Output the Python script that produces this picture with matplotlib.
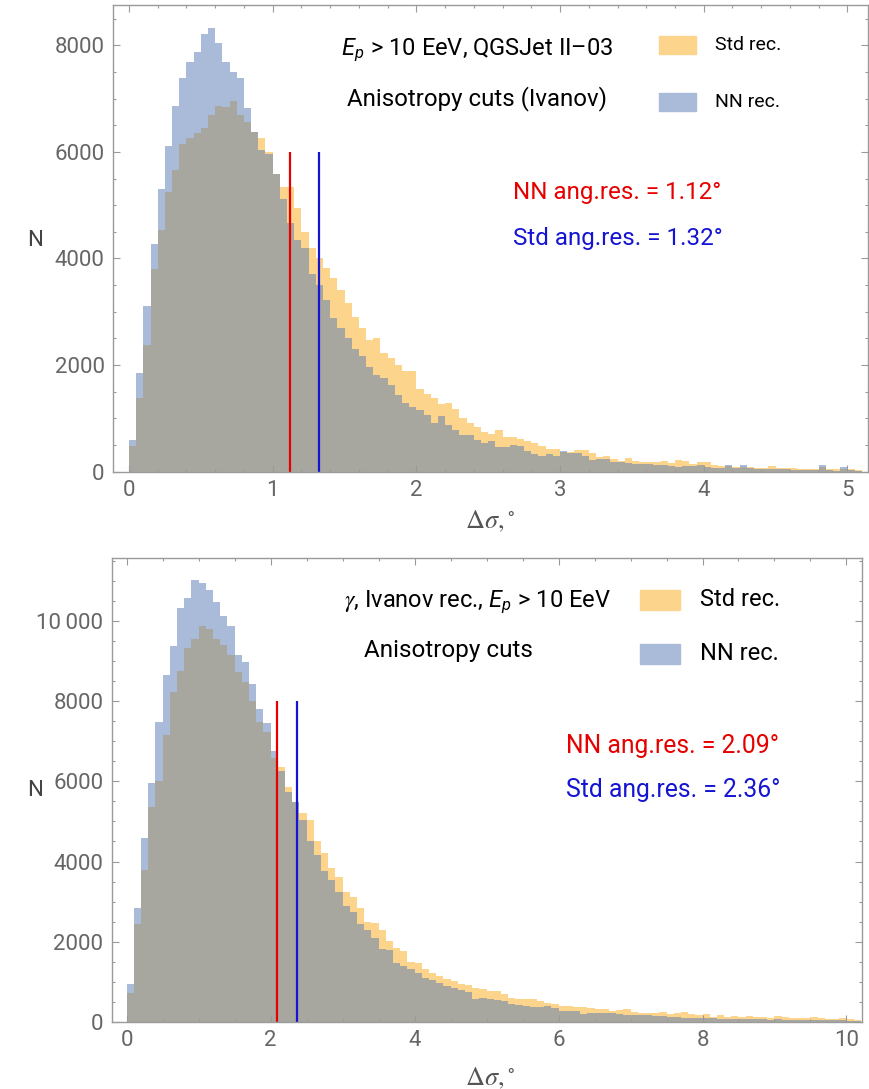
import numpy as np
import matplotlib
matplotlib.use("Agg")
import matplotlib.pyplot as plt
from matplotlib.patches import Rectangle
from matplotlib.ticker import MultipleLocator, FuncFormatter

# ---------------- data ----------------
# top panel: proton, bins of 0.05 deg starting at 0
top_bin_width = 0.05
top_std = [480, 1390, 2370, 3800, 4540, 5240, 5660, 6150, 6270, 6360,
           6450, 6690, 6860, 6840, 6950, 6700, 6560, 6380, 6260, 6000,
           5590, 5340, 5340, 4940, 4500, 4200, 4000, 3820, 3630, 3400,
           3160, 2900, 2690, 2470, 2500, 2220, 2130, 2000, 1880, 1880,
           1560, 1460, 1380, 1270, 1280, 1170, 1000, 920, 830, 750,
           700, 780, 660, 660, 610, 580, 530, 480, 420, 420,
           375, 375, 405, 405, 345, 280, 294, 232, 207, 251,
           207, 188, 188, 188, 201, 169, 219, 207, 144, 188,
           182, 125, 107, 107, 94, 94, 82, 63, 75, 107,
           63, 63, 75, 44, 44, 57, 82, 44, 44, 44,
           44, 32]
top_nn = [600, 1850, 3110, 4280, 5300, 6120, 6860, 7380, 7690, 7880,
          8210, 8320, 8040, 7690, 7490, 7380, 6820, 6380, 6040, 5960,
          5590, 5120, 4660, 4350, 4200, 3700, 3500, 3230, 2880, 2700,
          2500, 2310, 2170, 1970, 1810, 1750, 1630, 1440, 1280, 1220,
          1160, 1060, 910, 1040, 880, 780, 690, 690, 590, 530,
          580, 470, 470, 500, 480, 380, 340, 290, 330, 290,
          390, 355, 355, 295, 220, 230, 231, 188, 188, 169,
          144, 144, 144, 125, 125, 107, 82, 107, 107, 125,
          82, 63, 63, 125, 63, 125, 63, 44, 44, 44,
          44, 44, 32, 32, 32, 32, 119, 32, 19, 94,
          32, 19]
top_nn_res = 1.12
top_std_res = 1.32

# bottom panel: gamma, bins of 0.1 deg starting at 0
bot_bin_width = 0.1
bot_std = [720, 2430, 3800, 5370, 6020, 7160, 8240, 8760, 9320, 9550,
           9880, 9800, 9550, 9400, 9150, 8740, 8490, 8020, 7490, 7240,
           6580, 6370, 5870, 5490, 5220, 5035, 4500, 4200, 3840, 3610,
           3240, 3120, 2850, 2480, 2455, 2290, 2020, 1850, 1760, 1500,
           1460, 1310, 1220, 1145, 1070, 1020, 950, 925, 832, 808,
           774, 760, 700, 600, 570, 570, 555, 520, 470, 430,
           400, 380, 375, 360, 333, 316, 308, 275, 292, 308,
           233, 225, 225, 208, 233, 192, 208, 233, 192, 167,
           183, 125, 167, 125, 142, 125, 142, 125, 108, 100,
           142, 125, 100, 84, 84, 108, 84, 67, 67, 84,
           67, 42]
bot_nn = [940, 2830, 4590, 5950, 7490, 8660, 9380, 10320, 10570, 11030,
          10950, 10780, 10490, 10130, 9880, 9150, 8990, 8430, 7800, 7470,
          6760, 6260, 5740, 5490, 5035, 4520, 4150, 3770, 3540, 3246,
          2900, 2740, 2450, 2280, 2100, 1820, 1790, 1456, 1390, 1310,
          1207, 1095, 1050, 960, 895, 840, 800, 735, 570, 583,
          558, 541, 510, 450, 410, 385, 365, 360, 400, 333,
          270, 260, 270, 200, 225, 208, 208, 208, 191, 167,
          167, 167, 167, 150, 142, 125, 108, 100, 100, 84,
          84, 84, 67, 67, 67, 59, 59, 59, 59, 42,
          59, 42, 42, 42, 42, 42, 42, 34, 34, 42,
          25, 25]
bot_nn_res = 2.09
bot_std_res = 2.36

# ---------------- style ----------------
C_STD = "#fdd48c"
C_NN = "#a9bbd8"
C_BOTH = "#a8a79f"
C_FRAME = "#9a9a9a"
C_TICKLBL = "#666666"
C_RED = "#e60000"
C_BLUE = "#1414d2"

plt.rcParams["font.family"] = ["Roboto", "DejaVu Sans"]
plt.rcParams["mathtext.fontset"] = "custom"
plt.rcParams["mathtext.rm"] = "STIXGeneral"
plt.rcParams["mathtext.it"] = "STIXGeneral:italic"
plt.rcParams["mathtext.sf"] = "Roboto:italic"
plt.rcParams["mathtext.fallback"] = "stix"

W, H = 869, 1089
fig = plt.figure(figsize=(W / 100, H / 100), dpi=100)


def fx(px):
    return px / W


def fy(py):
    return 1 - py / H


def draw_hist(ax, bw, std, nn):
    std = np.asarray(std, float)
    nn = np.asarray(nn, float)
    edges = np.arange(len(std)) * bw
    ax.bar(edges, std, width=bw, align="edge", color=C_STD, linewidth=0)
    ax.bar(edges, nn, width=bw, align="edge", color=C_NN, linewidth=0)
    ax.bar(edges, np.minimum(std, nn), width=bw, align="edge", color=C_BOTH, linewidth=0)


def style_axes(ax, xmaj, xmin_, ymaj, ymin_):
    for s in ax.spines.values():
        s.set_color(C_FRAME)
        s.set_linewidth(1.0)
    ax.xaxis.set_major_locator(MultipleLocator(xmaj))
    ax.xaxis.set_minor_locator(MultipleLocator(xmin_))
    ax.yaxis.set_major_locator(MultipleLocator(ymaj))
    ax.yaxis.set_minor_locator(MultipleLocator(ymin_))
    ax.tick_params(which="both", direction="in", top=True, right=True,
                   color=C_FRAME, width=0.8)
    ax.tick_params(which="major", length=5, labelsize=16, labelcolor=C_TICKLBL, pad=6)
    ax.tick_params(which="minor", length=2.5)
    ax.yaxis.set_major_formatter(FuncFormatter(
        lambda v, p: ("%d\u2009%03d" % (int(v) // 1000, int(v) % 1000)) if v >= 10000 else "%d" % v))


# ---------------- top panel ----------------
ax1 = fig.add_axes([fx(113), fy(471.7), fx(868 - 113), (471.7 - 5) / H])
draw_hist(ax1, top_bin_width, top_std, top_nn)
ax1.vlines(top_nn_res, 0, 6000, color=C_RED, linewidth=1.6)
ax1.vlines(top_std_res, 0, 6000, color=C_BLUE, linewidth=1.6)
ax1.set_xlim(-0.111, 5.143)
ax1.set_ylim(0, 8756)
style_axes(ax1, 1, 0.2, 2000, 500)

# ---------------- bottom panel ----------------
ax2 = fig.add_axes([fx(111.7), fy(1021.7), fx(862.3 - 111.7), (1021.7 - 558.3) / H])
draw_hist(ax2, bot_bin_width, bot_std, bot_nn)
ax2.vlines(bot_nn_res, 0, 8000, color=C_RED, linewidth=1.6)
ax2.vlines(bot_std_res, 0, 8000, color=C_BLUE, linewidth=1.6)
ax2.set_xlim(-0.208, 10.22)
ax2.set_ylim(0, 11571)
style_axes(ax2, 2, 0.5, 2000, 500)

# ---------------- labels ----------------
for yl in (240, 790):
    fig.text(fx(35), fy(yl), "N", ha="center", va="center", fontsize=16, color="#444444")
for yl in (521, 1078):
    fig.text(fx(490), fy(yl), r"$\Delta\sigma,^{\circ}$", ha="center", va="center",
             fontsize=19, color="#555555")

# top annotations
fig.text(fx(477), fy(50), r"$\mathsf{E}_{\mathsf{p}}$ > 10 EeV, QGSJet II" + "\u201303",
         ha="center", va="center", fontsize=17)
fig.text(fx(477), fy(99), "Anisotropy cuts (Ivanov)", ha="center", va="center", fontsize=17.3)
fig.text(fx(513), fy(192), "NN ang.res. = %.2f\u00b0" % top_nn_res, ha="left", va="center",
         fontsize=17.4, color=C_RED)
fig.text(fx(513), fy(238), "Std ang.res. = %.2f\u00b0" % top_std_res, ha="left", va="center",
         fontsize=17.4, color=C_BLUE)
fig.patches.append(Rectangle((fx(659), fy(54)), fx(37), 18 / H, transform=fig.transFigure,
                             color=C_STD, figure=fig))
fig.patches.append(Rectangle((fx(659), fy(111)), fx(37), 18 / H, transform=fig.transFigure,
                             color=C_NN, figure=fig))
fig.text(fx(715), fy(45), "Std rec.", ha="left", va="center", fontsize=14)
fig.text(fx(715), fy(102), "NN rec.", ha="left", va="center", fontsize=14)

# bottom annotations
fig.text(fx(478), fy(602), r"$\gamma$, Ivanov rec., $\mathsf{E}_{\mathsf{p}}$ > 10 EeV",
         ha="center", va="center", fontsize=17)
fig.text(fx(448), fy(650), "Anisotropy cuts", ha="center", va="center", fontsize=17.5)
fig.text(fx(566), fy(746), "NN ang.res. = %.2f\u00b0" % bot_nn_res, ha="left", va="center",
         fontsize=17.8, color=C_RED)
fig.text(fx(566), fy(790), "Std ang.res. = %.2f\u00b0" % bot_std_res, ha="left", va="center",
         fontsize=17.8, color=C_BLUE)
fig.patches.append(Rectangle((fx(640), fy(610)), fx(40), 20 / H, transform=fig.transFigure,
                             color=C_STD, figure=fig))
fig.patches.append(Rectangle((fx(640), fy(664)), fx(40), 20 / H, transform=fig.transFigure,
                             color=C_NN, figure=fig))
fig.text(fx(700), fy(600), "Std rec.", ha="left", va="center", fontsize=17)
fig.text(fx(700), fy(653), "NN rec.", ha="left", va="center", fontsize=17)

fig.savefig("out.png", dpi=100)
